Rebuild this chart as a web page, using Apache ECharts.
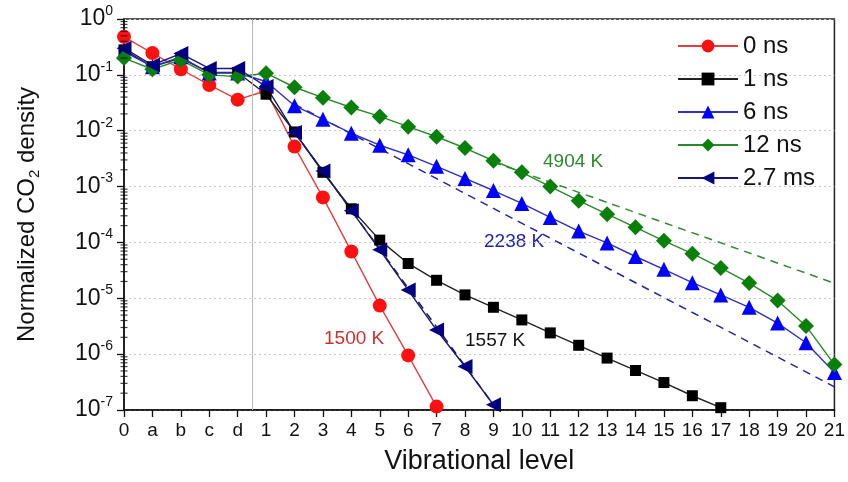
<!DOCTYPE html>
<html>
<head>
<meta charset="utf-8">
<script src="https://cdn.jsdelivr.net/npm/echarts@6/dist/echarts.min.js"></script>
<style>
  html, body { margin: 0; padding: 0; background: #fff; }
  #chart { width: 848px; height: 482px; }
</style>
</head>
<body>
<div id="chart"></div>
<script>
// x categories: ground-state/bending levels then asymmetric stretch levels
const levelLabels = ['0', 'a', 'b', 'c', 'd', '1', '2', '3', '4', '5', '6', '7', '8', '9',
  '10', '11', '12', '13', '14', '15', '16', '17', '18', '19', '20', '21'];

const ns0 = [0.48, 0.245, 0.126, 0.066, 0.036, 0.052, 0.0052, 0.00064, 0.000069, 0.0000074,
  0.00000095, 0.000000115];
const ns1 = [0.28, 0.14, 0.2, 0.11, 0.11, 0.045, 0.0095, 0.0018, 0.0004, 0.00011, 0.000042,
  0.000021, 0.0000115, 0.0000069, 0.0000041, 0.0000024, 0.00000144, 0.00000085, 0.00000051,
  0.00000031, 0.00000018, 0.00000011];
const ns6 = [0.26, 0.14, 0.21, 0.108, 0.108, 0.076, 0.028, 0.016, 0.009, 0.0055, 0.0037,
  0.0023, 0.0014, 0.00085, 0.0005, 0.00028, 0.00016, 0.000098, 0.000056, 0.000033, 0.000019,
  0.0000115, 0.0000069, 0.0000036, 0.0000016, 0.00000047];
const ns12 = [0.2, 0.126, 0.185, 0.1, 0.093, 0.107, 0.06, 0.039, 0.026, 0.018, 0.0118, 0.0078,
  0.0049, 0.0029, 0.0018, 0.001, 0.00056, 0.00032, 0.000186, 0.000107, 0.000063, 0.000035,
  0.0000187, 0.0000091, 0.0000032, 0.00000065];
const ms27 = [0.30, 0.15, 0.24, 0.13, 0.13, 0.062, 0.0093, 0.0019, 0.00037, 0.000074, 0.000014,
  0.0000027, 0.0000006, 0.000000124];

// Boltzmann fits: [level index, density]
const fit4904 = [[13, 0.00275], [25, 0.0000186]];
const fit2238 = [[6, 0.0298], [25, 0.00000026]];
const fit1557 = [[6, 0.0093], [13, 0.000000124]];

const FONT = '"Liberation Sans", Arial, sans-serif';
const toPairs = arr => arr.map((v, i) => [i, v]);

// log minor ticks 2..9 x 10^k for the y axis
const minorTicks = [];
for (let k = -7; k < 0; k++) {
  for (let m = 2; m <= 9; m++) minorTicks.push([0, m * Math.pow(10, k)]);
}

function dataSeries(name, values, symbol, size, markerColor, lineColor, rotate) {
  return {
    name: name,
    type: 'line',
    data: toPairs(values),
    symbol: symbol,
    symbolSize: size,
    symbolRotate: rotate || 0,
    showAllSymbol: true,
    itemStyle: { color: markerColor },
    lineStyle: { color: lineColor, width: 1.4 },
    z: 3
  };
}

function fitSeries(values, color) {
  return {
    type: 'line',
    data: values,
    symbol: 'none',
    silent: true,
    lineStyle: { color: color, width: 1.5, type: [8, 6] },
    z: 2
  };
}

const chart = echarts.init(document.getElementById('chart'));

chart.setOption({
  animation: false,
  textStyle: { fontFamily: FONT },
  grid: {
    left: 124, right: 11, top: 19, bottom: 72,
    show: true, borderColor: '#222', borderWidth: 1.5
  },
  legend: {
    data: ['0 ns', '1 ns', '6 ns', '12 ns', '2.7 ms'],
    orient: 'vertical',
    left: 672, top: 27,
    itemWidth: 60, itemHeight: 16, itemGap: 5,
    textStyle: { fontSize: 24, color: '#111', fontFamily: FONT, lineHeight: 28 }
  },
  xAxis: {
    type: 'value',
    min: 0, max: 25, interval: 1,
    name: 'Vibrational level',
    nameLocation: 'middle',
    nameGap: 38,
    nameTextStyle: { fontSize: 27, color: '#111', fontFamily: FONT },
    axisLine: { lineStyle: { color: '#111', width: 1.5 } },
    axisTick: { show: true, length: 7, inside: false, lineStyle: { color: '#111', width: 1.3 } },
    axisLabel: {
      fontSize: 19, color: '#111', margin: 11,
      formatter: v => levelLabels[v]
    },
    splitLine: { show: false }
  },
  yAxis: {
    type: 'log',
    logBase: 10,
    min: 1e-7, max: 1,
    name: 'Normalized CO{sub|2} density',
    nameLocation: 'middle',
    nameRotate: 90,
    nameGap: 82,
    nameTextStyle: {
      fontSize: 24, color: '#111', fontFamily: FONT,
      rich: { sub: { fontSize: 15, color: '#111', padding: [14, 0, 0, 0] } }
    },
    axisLine: { show: true, lineStyle: { color: '#111', width: 1.5 } },
    axisTick: { show: true, length: 7, lineStyle: { color: '#111', width: 1.3 } },
    axisLabel: {
      color: '#111', margin: 11,
      formatter: v => '{b|10}{s|' + Math.round(Math.log10(v)) + '}',
      rich: {
        b: { fontSize: 23, color: '#111', fontFamily: FONT },
        s: { fontSize: 14, color: '#111', fontFamily: FONT, padding: [0, 0, 16, 0] }
      }
    },
    splitLine: { show: true, lineStyle: { color: '#c8c8c8', type: [2, 3], width: 1 } }
  },
  series: [
    dataSeries('0 ns', ns0, 'circle', 14, '#ff1010', '#e04040'),
    dataSeries('1 ns', ns1, 'rect', 11, '#000', '#222'),
    dataSeries('6 ns', ns6, 'triangle', 15, '#0000ff', '#3030c8'),
    dataSeries('12 ns', ns12, 'diamond', 16, '#0a800a', '#2a8a2a'),
    dataSeries('2.7 ms', ms27, 'triangle', 15, '#000080', '#1a1a70', 90),
    fitSeries(fit4904, '#2e8b2e'),
    fitSeries(fit2238, '#2424a8'),
    fitSeries(fit1557, '#1a1a60'),
    {
      type: 'scatter',
      silent: true,
      clip: false,
      data: minorTicks,
      symbol: 'rect',
      symbolSize: [7, 1.2],
      itemStyle: { color: '#111' },
      z: 5
    },
    {
      type: 'line',
      data: [],
      silent: true,
      markLine: {
        silent: true,
        symbol: 'none',
        label: { show: false },
        lineStyle: { color: '#b8b8b8', width: 1, type: 'solid' },
        data: [{ xAxis: 4.5 }]
      }
    }
  ],
  graphic: [
    { type: 'text', left: 543, top: 152, style: { text: '4904 K', fontSize: 19, fill: '#2a8a2a', fontFamily: FONT } },
    { type: 'text', left: 484, top: 232, style: { text: '2238 K', fontSize: 19, fill: '#2424a8', fontFamily: FONT } },
    { type: 'text', left: 465, top: 331, style: { text: '1557 K', fontSize: 19, fill: '#111', fontFamily: FONT } },
    { type: 'text', left: 324, top: 329, style: { text: '1500 K', fontSize: 19, fill: '#d03030', fontFamily: FONT } }
  ]
});
</script>
</body>
</html>
